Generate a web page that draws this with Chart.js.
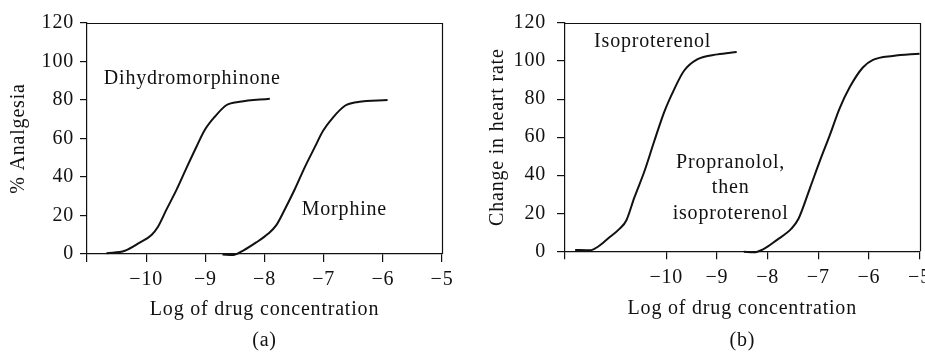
<!DOCTYPE html>
<html>
<head>
<meta charset="utf-8">
<script src="https://cdn.jsdelivr.net/npm/chart.js@4"></script>
<style>
  html, body { margin: 0; padding: 0; background: #fff; overflow: hidden; }
  body { width: 925px; height: 354px; position: relative; }
  canvas { position: absolute; top: 0; }
  #chartA { left: 0; }
  #chartB { left: 462px; }
</style>
</head>
<body>
<canvas id="chartA" width="462" height="354"></canvas>
<canvas id="chartB" width="475" height="354"></canvas>
<script>
const FONT = "'Liberation Serif', 'Times New Roman', serif";
const INK = "#111";
const FS = 20;

// (a) analgesia vs log concentration
const dihydroX = [-10.67, -10.36, -10.11, -9.91, -9.80, -9.66, -9.49, -9.32, -9.15, -9.01, -8.84, -8.64, -8.42, -7.91];
const dihydroY = [0.4, 1.7, 5.9, 9.9, 14.2, 22.9, 33.2, 44.6, 55.7, 64.4, 71.3, 77.4, 79.1, 80.7];
const morphineX = [-8.71, -8.53, -8.36, -8.14, -7.94, -7.80, -7.66, -7.49, -7.32, -7.15, -7.01, -6.84, -6.64, -6.42, -5.92];
const morphineY = [-0.3, -0.5, 1.8, 6.0, 10.5, 15, 23, 33.5, 45, 55.5, 64, 71, 77, 79, 80];

// (b) heart rate vs log concentration
const isoX = [-11.80, -11.51, -11.35, -11.15, -10.92, -10.79, -10.63, -10.43, -10.24, -10.04, -9.84, -9.65, -9.39, -8.99, -8.61];
const isoY = [0.7, 0.5, 2.4, 6.7, 11.9, 16.2, 28.3, 42.2, 57.7, 73.3, 85.4, 94.9, 100.9, 103.5, 104.8];
const propX = [-8.47, -8.27, -8.08, -7.82, -7.53, -7.39, -7.16, -6.97, -6.77, -6.58, -6.38, -6.12, -5.92, -5.53, -5.0];
const propY = [-0.3, -0.5, 1.2, 5.9, 11.9, 17.1, 33.5, 47.4, 61.2, 75, 86.2, 96.6, 100.6, 102.7, 103.9];

// tick positions
const xTicksA = [-11, -10, -9, -8, -7, -6, -5];
const xTicksB = [-12, -10, -9, -8, -7, -6, -5];
const yTicks = [0, 20, 40, 60, 80, 100, 120];

// curve labels (data coordinates)
const notesA = [
  { lines: ["Dihydromorphinone"], x: -9.22, y: 91.2 },
  { lines: ["Morphine"], x: -6.65, y: 22.9 },
];
const notesB = [
  { lines: ["Isoproterenol"], x: -10.27, y: 110.4 },
  { lines: ["Propranolol,", "then", "isoproterenol"], x: -8.73, y: 46.8 },
];

const font = () => ({ family: FONT, size: FS, weight: "normal", lineHeight: 1.2 });

function pts(xs, ys) {
  return xs.map((x, i) => ({ x: x, y: ys[i] }));
}

function minusLabel(v) {
  if (v < -10) return "";
  return v < 0 ? "\u2212" + Math.abs(v) : String(v);
}

// a little letter spacing, closer to the wide book face of the original
const spacingPlugin = {
  id: "spacing",
  beforeUpdate(chart) { chart.ctx.letterSpacing = "0.8px"; },
  beforeDraw(chart) { chart.ctx.letterSpacing = "0.8px"; },
};

// top and right edges of the box
const framePlugin = {
  id: "frame",
  afterDraw(chart) {
    const { ctx, chartArea: { left, right, top, bottom } } = chart;
    const t = Math.round(top) + 0.5;
    const r = Math.round(right) + 0.5;
    ctx.save();
    ctx.strokeStyle = INK;
    ctx.lineWidth = 1.2;
    ctx.beginPath();
    ctx.moveTo(left, t);
    ctx.lineTo(r, t);
    ctx.lineTo(r, bottom);
    ctx.stroke();
    ctx.restore();
  },
};

const textPlugin = {
  id: "panelText",
  afterDraw(chart, args, opts) {
    const { ctx, chartArea, scales: { x, y } } = chart;
    ctx.save();
    ctx.fillStyle = INK;
    ctx.font = FS + "px " + FONT;
    ctx.textAlign = "center";
    ctx.textBaseline = "middle";
    opts.notes.forEach((n) => {
      n.lines.forEach((line, i) => {
        ctx.fillText(line, x.getPixelForValue(n.x), y.getPixelForValue(n.y) + i * 25.5);
      });
    });
    ctx.fillText(opts.caption, (chartArea.left + chartArea.right) / 2, 341);
    ctx.restore();
  },
};

function makePanel(id, cfg) {
  const curve = (data) => ({
    data: data,
    borderColor: INK,
    borderWidth: 2,
    pointRadius: 0,
    cubicInterpolationMode: "monotone",
    fill: false,
    clip: false,
  });

  return new Chart(document.getElementById(id), {
    type: "line",
    data: { datasets: cfg.series.map(curve) },
    options: {
      responsive: false,
      animation: false,
      layout: { padding: cfg.padding },
      plugins: {
        legend: { display: false },
        tooltip: { enabled: false },
        panelText: { notes: cfg.notes, caption: cfg.caption },
      },
      scales: {
        x: {
          type: "linear",
          min: cfg.xTicks[0],
          max: -5,
          afterBuildTicks: (s) => { s.ticks = cfg.xTicks.map((v) => ({ value: v })); },
          afterFit: (s) => { s.height = cfg.xAxisH; },
          grid: { drawOnChartArea: false, drawTicks: true, tickLength: 8, color: INK, lineWidth: 1.2 },
          border: { color: INK, width: 1.2 },
          ticks: {
            color: INK, font: font(), padding: 6,
            maxRotation: 0, autoSkip: false,
            callback: (v) => minusLabel(v),
          },
          title: {
            display: true, text: "Log of drug concentration", color: INK,
            font: font(), padding: { top: 0, bottom: cfg.xTitlePad },
          },
        },
        y: {
          min: 0,
          max: 120,
          afterBuildTicks: (s) => { s.ticks = yTicks.map((v) => ({ value: v })); },
          afterFit: (s) => { s.width = cfg.yAxisW; },
          grid: { drawOnChartArea: false, drawTicks: true, tickLength: cfg.yTickLen, color: INK, lineWidth: 1.2 },
          border: { color: INK, width: 1.2 },
          ticks: { color: INK, font: font(), padding: cfg.yTickPad },
          title: {
            display: true, text: cfg.yTitle, color: INK,
            font: font(), padding: { top: cfg.yTitlePad, bottom: 0 },
          },
        },
      },
    },
    plugins: [spacingPlugin, framePlugin, textPlugin],
  });
}

makePanel("chartA", {
  series: [pts(dihydroX, dihydroY), pts(morphineX, morphineY)],
  xTicks: xTicksA,
  notes: notesA,
  caption: "(a)",
  yTitle: "% Analgesia",
  padding: { top: 23, right: 20, left: 0, bottom: 0 },
  xAxisH: 100,
  yAxisW: 87,
  xTitlePad: 32,
  yTitlePad: 7,
  yTickLen: 7,
  yTickPad: 6,
});

makePanel("chartB", {
  series: [pts(isoX, isoY), pts(propX, propY)],
  xTicks: xTicksB,
  notes: notesB,
  caption: "(b)",
  yTitle: "Change in heart rate",
  padding: { top: 20, right: 16.7, left: 0, bottom: 0 },
  xAxisH: 102.7,
  yAxisW: 103,
  xTitlePad: 33.5,
  yTitlePad: 24,
  yTickLen: 8,
  yTickPad: 11,
});
</script>
</body>
</html>
